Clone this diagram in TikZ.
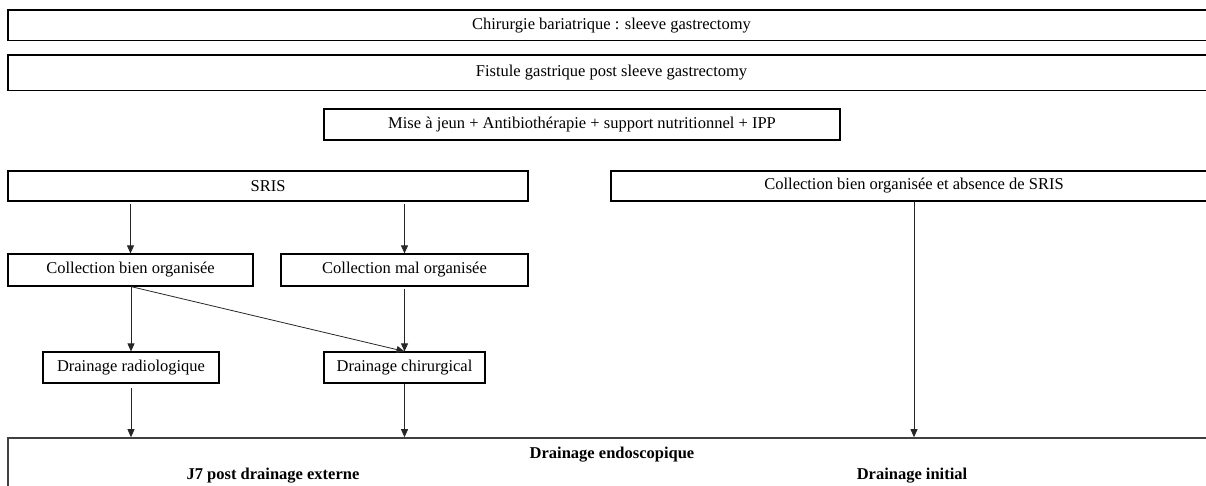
\documentclass[tikz,border=0pt]{standalone}
\usepackage{fontspec}
\setmainfont{Liberation Serif}
\usetikzlibrary{arrows.meta}
\begin{document}
\begin{tikzpicture}[x=1pt,y=1pt,
  font=\fontsize{16.5}{19}\selectfont,
  box/.style={draw=black, line width=1.2pt, inner sep=0pt, rectangle},
  txt/.style={inner sep=0pt},
  arr/.style={draw=black!85, line width=0.8pt, -{Triangle[width=7pt,length=8pt]}}]
\useasboundingbox (0,0) rectangle (1206,-486);
% boxes
\node[box, minimum width=1207, minimum height=30.5] (chir) at (611.5,-25.25) {Chirurgie bariatrique : sleeve gastrectomy};
\node[box, minimum width=1207, minimum height=35.5] (fist) at (611.5,-72.75) {Fistule gastrique post sleeve gastrectomy};
\node[box, minimum width=516, minimum height=31] (mise) at (582,-124.5) {Mise à jeun + Antibiothérapie + support nutritionnel + IPP};
\node[box, minimum width=520, minimum height=30] (sris) at (268,-186) {SRIS};
\node[box, minimum width=606, minimum height=30] (sans) at (914,-186) {Collection bien organisée et absence de SRIS};
\node[box, minimum width=245, minimum height=32] (cbien) at (130.5,-270) {Collection bien organisée};
\node[box, minimum width=247, minimum height=32] (cmal) at (404.5,-270) {Collection mal organisée};
\node[box, minimum width=176, minimum height=31] (radio) at (131,-367.5) {Drainage radiologique};
\node[box, minimum width=161, minimum height=31] (chirg) at (404.5,-367.5) {Drainage chirurgical};
\node[box, draw=black!75, line width=1.6pt, minimum width=1222, minimum height=62] (endo) at (619,-469) {};
\node[txt, font=\fontsize{16.5}{19}\selectfont\bfseries] (endot) at (612,-455) {Drainage endoscopique};
\node[txt, font=\fontsize{16.5}{19}\selectfont\bfseries] (j7) at (273,-476) {J7 post drainage externe};
\node[txt, font=\fontsize{16.5}{19}\selectfont\bfseries] (init) at (912,-476) {Drainage initial};
% connectors
\coordinate (s1) at (sris.south -| cbien.north);
\coordinate (s2) at (sris.south -| cmal.north);
\draw[arr, shorten <=2pt] (s1) -- (cbien.north);
\draw[arr, shorten <=2pt] (s2) -- (cmal.north);
\coordinate (c1) at (cbien.south -| radio.north);
\draw[arr] (c1) -- (radio.north);
\draw[arr] (c1) -- (chirg.north);
\coordinate (c2) at (cmal.south -| chirg.north);
\draw[arr, shorten <=2pt] (c2) -- (chirg.north);
\coordinate (e1) at (radio.south |- endo.north);
\coordinate (e2) at (chirg.south |- endo.north);
\coordinate (e3) at (sans.south |- endo.north);
\draw[arr, shorten <=4pt] (radio.south) -- (e1);
\draw[arr] (chirg.south) -- (e2);
\draw[arr] (sans.south) -- (e3);
\end{tikzpicture}
\end{document}
